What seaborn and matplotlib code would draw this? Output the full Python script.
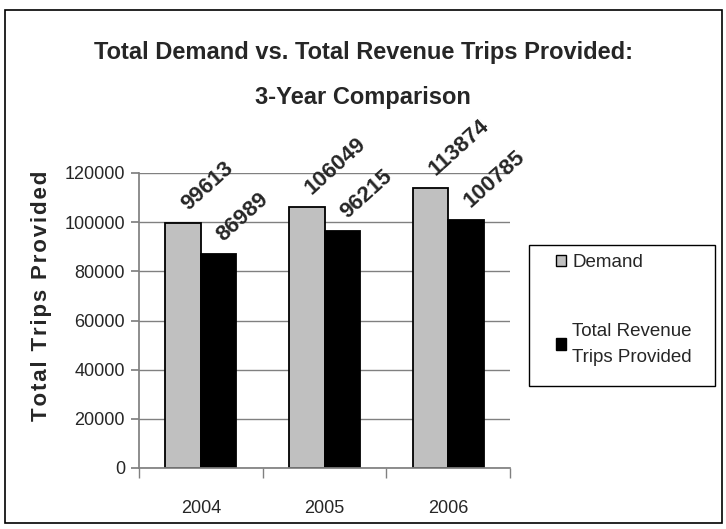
import numpy as np
import pandas as pd
import seaborn as sns
import matplotlib.pyplot as plt
from matplotlib.patches import Rectangle

years = ["2004", "2005", "2006"]
demand = [99613, 106049, 113874]
provided = [86989, 96215, 100785]
series = ["Demand", "Total Revenue\nTrips Provided"]

df = pd.DataFrame({
    "year": years * 2,
    "trips": demand + provided,
    "series": [series[0]] * 3 + [series[1]] * 3,
})

sns.set_theme(style="white")
plt.rcParams['font.family'] = ['Liberation Sans Narrow', 'Liberation Sans', 'DejaVu Sans']

W, H = 726, 529
fig = plt.figure(figsize=(W / 100, H / 100), dpi=100)
ax = fig.add_axes([139 / W, 1 - 468 / H, 371 / W, 295 / H])

sns.barplot(data=df, x="year", y="trips", hue="series", ax=ax,
            palette=["#c0c0c0", "#000000"], width=0.575,
            edgecolor="black", linewidth=1.3, saturation=1)

ax.set_ylim(0, 120000)
ax.set_yticks(np.arange(0, 120001, 20000))
ax.yaxis.grid(True, color="#808080", linewidth=1)
ax.set_axisbelow(True)
for s in ["top", "right"]:
    ax.spines[s].set_visible(False)
for s in ["left", "bottom"]:
    ax.spines[s].set_color("#808080")
ax.tick_params(axis="y", labelsize=13, length=6, color="#808080", left=True, pad=4)
ax.tick_params(axis="x", labelsize=13, length=0, pad=23)
ax.set_xticks([-0.5, 0.5, 1.5, 2.5], minor=True)
ax.tick_params(axis="x", which="minor", length=7, color="#808080", bottom=True)
ax.set_xlim(-0.5, 2.5)
ax.set_xlabel("")
ax.set_ylabel("\u200a".join("Total Trips Provided"), fontsize=16, fontweight="bold",
              family=["Liberation Sans", "DejaVu Sans"])
ax.yaxis.set_label_coords(-0.235, 0.585)

# rotated value labels above each bar
for cont in ax.containers:
    for bar, val in zip(cont, cont.datavalues):
        ax.annotate(f"{int(val)}", (bar.get_x() + bar.get_width() / 2, val),
                    xytext=(6, 6), textcoords="offset points",
                    rotation=42, ha="left", va="bottom", rotation_mode="anchor",
                    fontsize=16, fontweight="bold")

leg = ax.legend(loc="upper left", bbox_to_anchor=(556 / W, 1 - 254 / H),
                bbox_transform=fig.transFigure, frameon=False,
                fontsize=13.5, handlelength=0.55, handleheight=0.55,
                labelspacing=2.75, borderpad=0, handletextpad=0.32,
                borderaxespad=0)
for t in leg.get_texts():
    t.set_linespacing(1.7)
for h in leg.legend_handles:
    h.set_edgecolor("black")
    h.set_linewidth(1)

fig.patches.append(Rectangle((529 / W, 1 - 386 / H), 186 / W, 141 / H, transform=fig.transFigure,
                             fill=False, edgecolor="black", linewidth=1))

fig.text(0.5, 1 - 75 / H, "Total Demand vs. Total Revenue Trips Provided:\n3-Year Comparison",
         ha="center", va="center", fontsize=17, fontweight="bold", linespacing=2.2)

fig.patches.append(Rectangle((5 / W, 6 / H), 717 / W, 513 / H, transform=fig.transFigure,
                             fill=False, edgecolor="black", linewidth=1.2))

fig.savefig("out.png", dpi=100)
